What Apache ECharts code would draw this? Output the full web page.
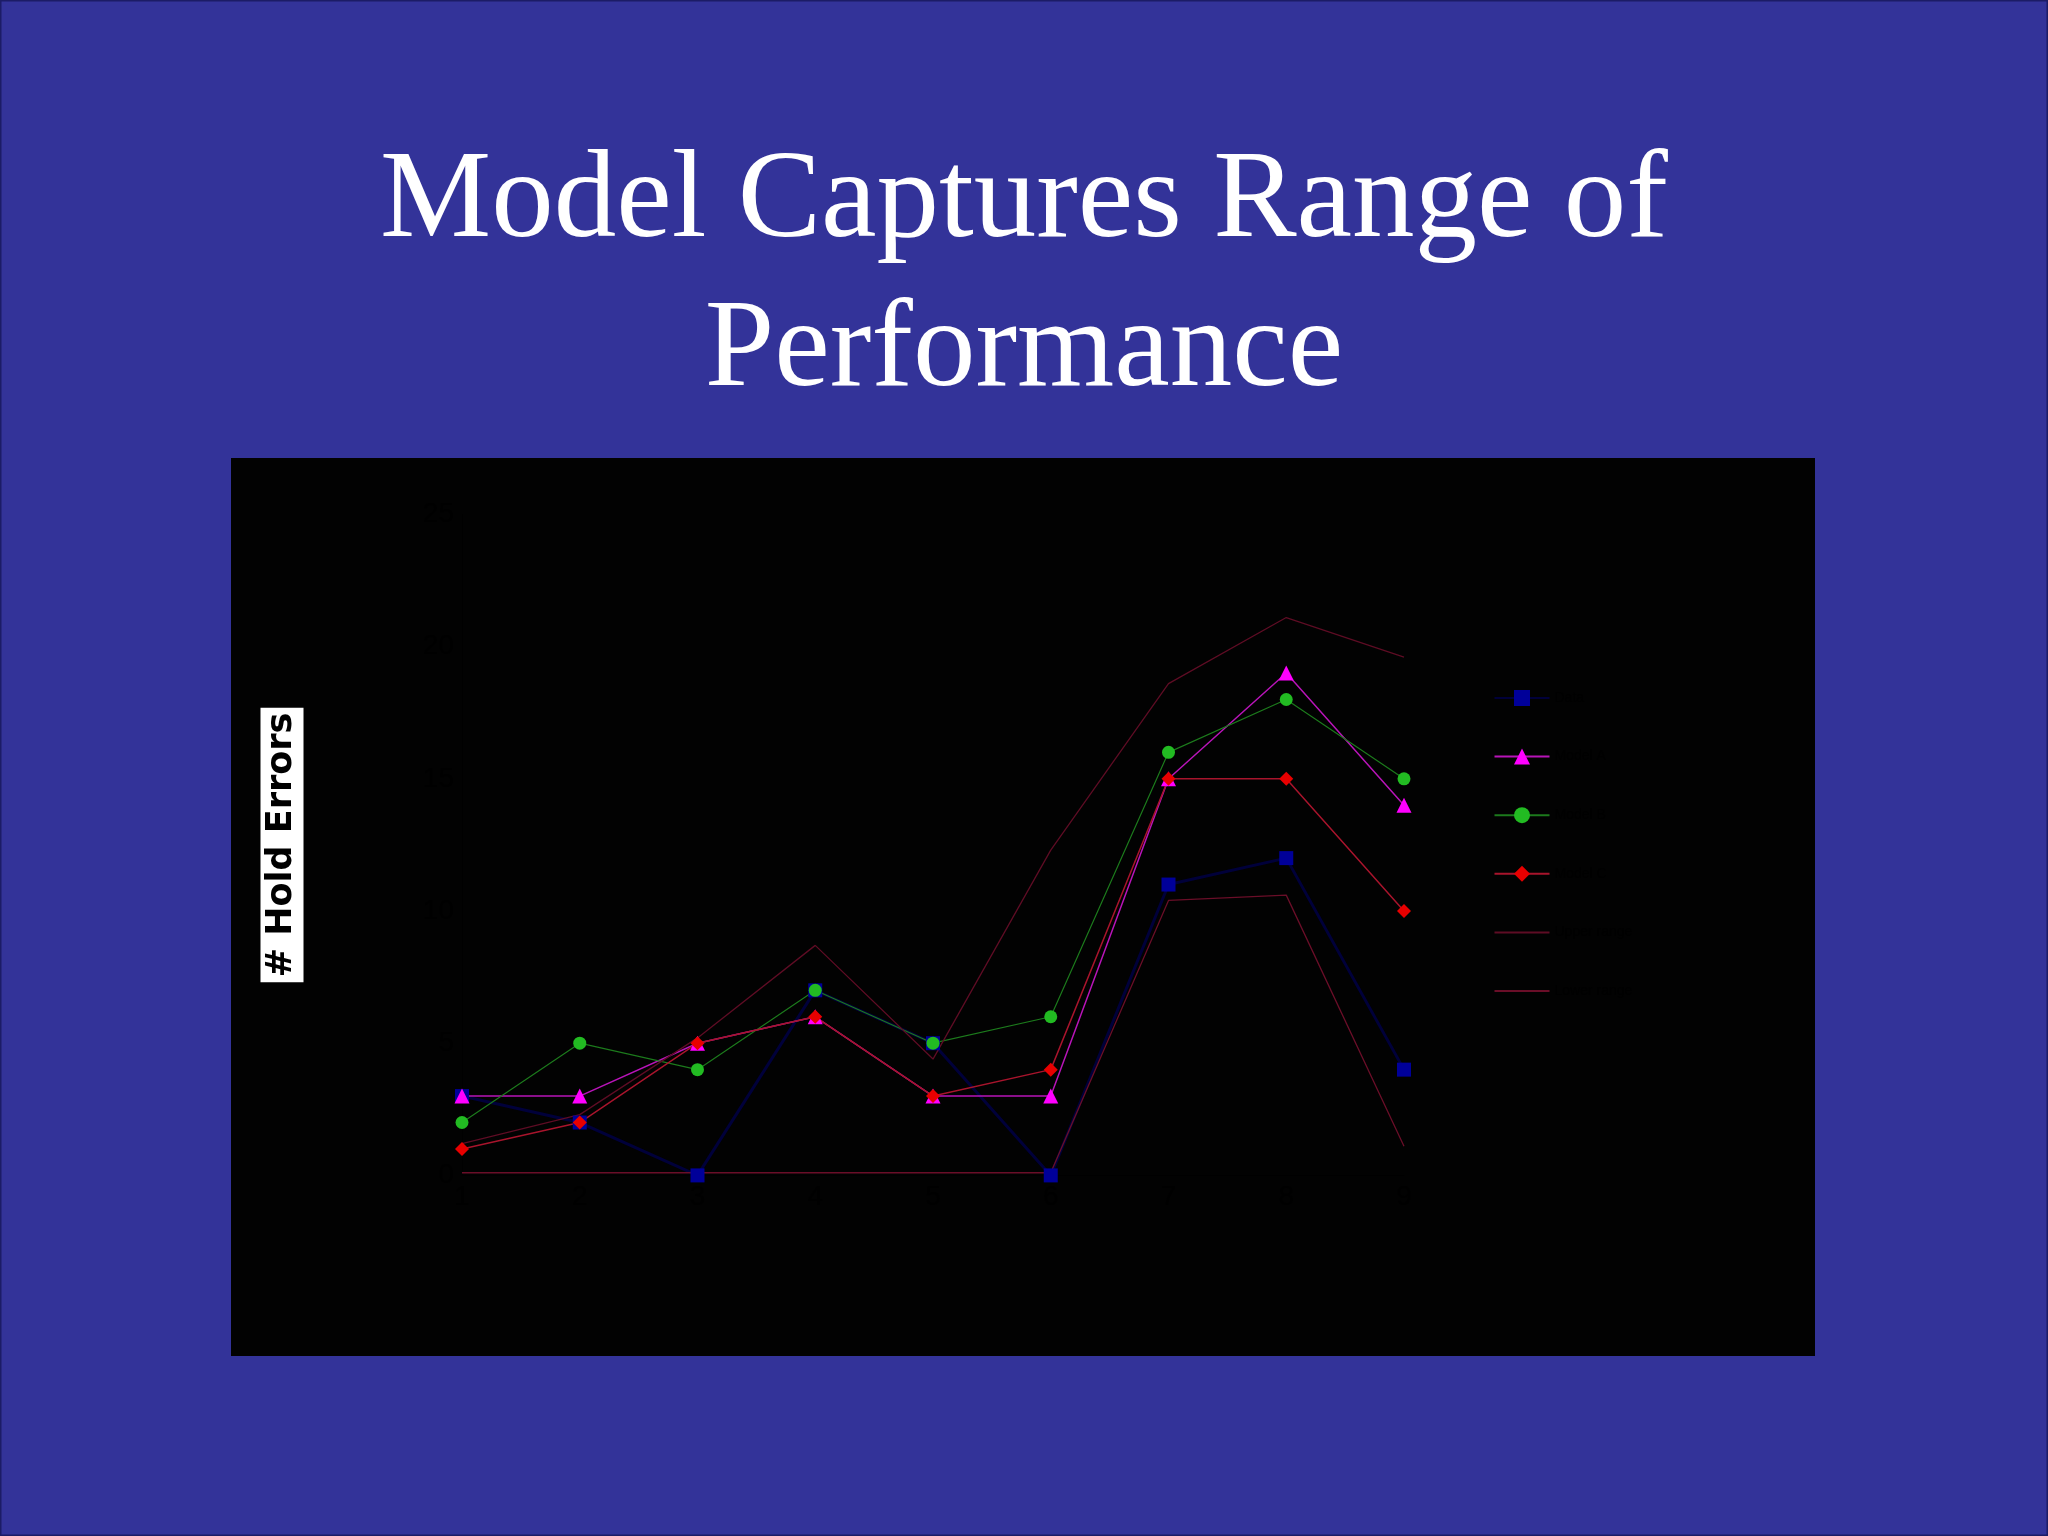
<!DOCTYPE html>
<html>
<head>
<meta charset="utf-8">
<script src="https://cdn.jsdelivr.net/npm/echarts/dist/echarts.min.js"></script>
<style>
html,body{margin:0;padding:0;background:#333399;}
#chart{width:2048px;height:1536px;}
</style>
</head>
<body>
<div id="chart"></div>
<script>
// ---- data ----
var categories = ['1', '2', '3', '4', '5', '6', '7', '8', '9'];
var seriesNames = ['Data', 'Model A', 'Model B', 'Model C', 'Upper range', 'Lower range'];
var dataSquare   = [3, 2, 0, 7, 5, 0, 11, 12, 4];
var dataTriangle = [3, 3, 5, 6, 3, 3, 15, 19, 14];
var dataCircle   = [2, 5, 4, 7, 5, 6, 16, 18, 15];
var dataDiamond  = [1, 2, 5, 6, 3, 4, 15, 15, 10];
var dataUpper    = [1.2, 2.3, 5.2, 8.7, 4.4, 12.3, 18.6, 21.1, 19.6];
var dataLower    = [0.1, 0.1, 0.1, 0.1, 0.1, 0.1, 10.4, 10.6, 1.1];
var yTicks = [0, 5, 10, 15, 20, 25];

var chart = echarts.init(document.getElementById('chart'), null, {renderer: 'canvas'});

function lineSeries(name, data, symbol, size, markerColor, lineColor, lineWidth) {
  return {
    name: name,
    type: 'line',
    data: data,
    symbol: symbol,
    symbolSize: size,
    showSymbol: symbol !== 'none',
    itemStyle: {color: markerColor},
    lineStyle: {color: lineColor, width: lineWidth},
    emphasis: {disabled: true}
  };
}

var option = {
  animation: false,
  backgroundColor: '#333399',
  graphic: [
    {type: 'rect', shape: {x: 0.5, y: 0.5, width: 2047, height: 1535},
     style: {fill: 'none', stroke: '#1c1c66', lineWidth: 2}, z: -10},
    {type: 'rect', shape: {x: 231, y: 458, width: 1584, height: 898},
     style: {fill: '#020202'}, z: -5},
    {type: 'text', x: 1024, y: 203, z: 10,
     style: {text: 'Model Captures Range of', fill: '#ffffff',
             font: '125px "Liberation Serif", "Times New Roman", serif',
             align: 'center', verticalAlign: 'middle'}},
    {type: 'text', x: 1024, y: 352, z: 10,
     style: {text: 'Performance', fill: '#ffffff',
             font: '125px "Liberation Serif", "Times New Roman", serif',
             align: 'center', verticalAlign: 'middle'}},
    {type: 'text', x: 282, y: 845, rotation: Math.PI / 2, z: 10,
     style: {text: '# Hold Errors', fill: '#000000',
             font: 'bold 35px "DejaVu Sans", sans-serif',
             align: 'center', verticalAlign: 'middle',
             backgroundColor: '#ffffff', padding: [5, 5, 3, 5]}}
  ],
  grid: {left: 462, right: 644, top: 514.4, bottom: 360.6, show: false},
  legend: {
    orient: 'vertical',
    left: 1488.5,
    top: 685,
    itemWidth: 55,
    itemHeight: 20,
    itemGap: 42.6,
    data: [
      {name: seriesNames[0]},
      {name: seriesNames[1]},
      {name: seriesNames[2]},
      {name: seriesNames[3]},
      {name: seriesNames[4], itemStyle: {opacity: 0}},
      {name: seriesNames[5], itemStyle: {opacity: 0}}
    ],
    textStyle: {color: '#000000', fontSize: 14, fontFamily: 'Liberation Sans'}
  },
  xAxis: {
    type: 'category',
    data: categories,
    boundaryGap: false,
    axisLine: {show: true, lineStyle: {color: '#000000'}},
    axisTick: {show: false},
    axisLabel: {color: '#000000', fontSize: 28}
  },
  yAxis: {
    type: 'value',
    min: 0,
    max: 25,
    interval: 5,
    axisLine: {show: true, lineStyle: {color: '#000000'}},
    axisLabel: {color: '#000000', fontSize: 28,
                formatter: function (v) { return yTicks.indexOf(v) >= 0 ? String(v) : ''; }},
    splitLine: {show: false}
  },
  series: [
    lineSeries(seriesNames[0], dataSquare, 'rect', 14, '#000099', '#00003a', 3),
    lineSeries(seriesNames[1], dataTriangle, 'triangle', 15, '#ff00ff', '#b814b8', 1.5),
    lineSeries(seriesNames[2], dataCircle, 'circle', 13, '#22bb22', '#1c7a1c', 1.2),
    lineSeries(seriesNames[3], dataDiamond, 'diamond', 14, '#e80000', '#a8142c', 1.5),
    lineSeries(seriesNames[4], dataUpper, 'none', 0, '#5e0c24', '#5e0c24', 1.3),
    lineSeries(seriesNames[5], dataLower, 'none', 0, '#6a0e28', '#6a0e28', 1.3)
  ]
};
chart.setOption(option);
</script>
</body>
</html>
